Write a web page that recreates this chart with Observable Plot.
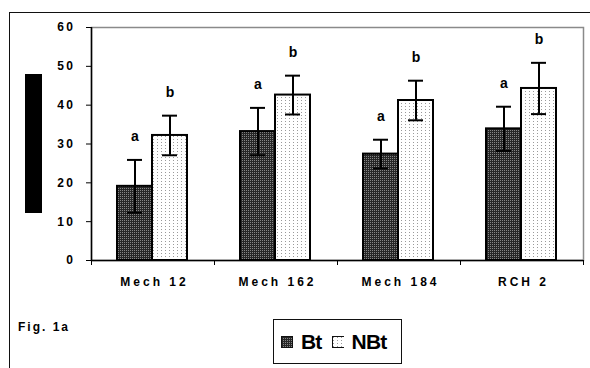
<!DOCTYPE html>
<html><head><meta charset="utf-8">
<script src="https://cdn.jsdelivr.net/npm/d3@7"></script>
<script src="https://cdn.jsdelivr.net/npm/@observablehq/plot@0.6"></script>
<style>
body{margin:0;background:#fff;font-family:"Liberation Sans",Arial,sans-serif}
#wrap{position:relative;width:590px;height:368px;overflow:hidden;background:#fff}
#wrap svg.plot{position:absolute;left:0;top:0}
#frameTop{position:absolute;left:9px;top:12px;width:590px;height:0;border-top:1.5px solid #111}
#frameLeft{position:absolute;left:9px;top:12px;width:0;height:370px;border-left:1.5px solid #111}
#blackbar{position:absolute;left:25px;top:74px;width:17px;height:139px;background:#000}
#fig{position:absolute;left:18px;top:320px;font-size:12px;font-weight:bold;letter-spacing:2px}
#legend{position:absolute;left:273px;top:319px;width:129px;height:45px;border:1px solid #111;box-sizing:border-box;display:flex;align-items:center;padding-left:7px;font-weight:bold;font-size:21px;letter-spacing:-0.8px}
#legend .sw{width:12px;height:12px;margin-right:8px}
#legend .lab{margin-right:10px}
.ytick text{letter-spacing:2.5px}
.xlab text{letter-spacing:3px}
</style>
</head><body>
<svg width="0" height="0" style="position:absolute">
  <defs>
    <pattern id="patBt" width="2" height="2" patternUnits="userSpaceOnUse">
      <rect width="2" height="2" fill="#262626"/>
      <rect width="1" height="1" fill="#858585"/>
    </pattern>
    <pattern id="patNBt" width="4" height="3" patternUnits="userSpaceOnUse">
      <rect width="4" height="3" fill="#fff"/>
      <rect x="1" y="1" width="1" height="1" fill="#9a9a9a"/>
    </pattern>
  </defs>
</svg>
<div id="wrap">
  <div id="frameTop"></div>
  <div id="frameLeft"></div>
  <div id="blackbar"></div>
  <div id="fig">Fig. 1a</div>
  <div id="legend">
    <svg class="sw" width="12" height="12"><rect x="0.5" y="0.5" width="11" height="11" fill="url(#patBt)" stroke="#111"/></svg><span class="lab">Bt</span>
    <svg class="sw" width="14" height="12"><rect x="0.5" y="0.5" width="13" height="11" fill="url(#patNBt)" stroke="#111"/></svg><span>NBt</span>
  </div>
</div>
<script>
const categories = ["Mech 12", "Mech 162", "Mech 184", "RCH 2"];
const btMean  = [19.1, 33.2, 27.4, 33.9];
const btErr   = [6.8, 6.1, 3.7, 5.7];
const nbtMean = [32.2, 42.6, 41.2, 44.3];
const nbtErr  = [5.1, 5.0, 5.1, 6.6];
const btLetters  = ["a", "a", "a", "a"];
const nbtLetters = ["b", "b", "b", "b"];
const yTicks = [0, 10, 20, 30, 40, 50, 60];

const bt = categories.map((c, i) => ({cat: c, m: btMean[i], e: btErr[i], lo: btMean[i] - btErr[i], hi: btMean[i] + btErr[i], letter: btLetters[i]}));
const nbt = categories.map((c, i) => ({cat: c, m: nbtMean[i], e: nbtErr[i], lo: nbtMean[i] - nbtErr[i], hi: nbtMean[i] + nbtErr[i], letter: nbtLetters[i]}));

const half = 61.5; // half of band width in px
const font = "Liberation Sans, Arial, sans-serif";

const chart = Plot.plot({
  width: 590,
  height: 368,
  marginLeft: 91,
  marginRight: 7,
  marginTop: 27,
  marginBottom: 108,
  style: {fontFamily: font, background: "transparent"},
  x: {domain: categories, padding: 0, axis: null, label: null},
  y: {domain: [0, 60], axis: null, label: null},
  marks: [
    Plot.frame({stroke: "#8a8a8a", strokeWidth: 1.5}),
    Plot.barY(bt, {x: "cat", y: "m", insetLeft: 26, insetRight: 62, fill: "url(#patBt)", stroke: "#000", strokeWidth: 2}),
    Plot.barY(nbt, {x: "cat", y: "m", insetLeft: 61, insetRight: 27, fill: "url(#patNBt)", stroke: "#000", strokeWidth: 2}),
    Plot.ruleX(bt, {x: "cat", y1: "lo", y2: "hi", dx: -18, stroke: "#000", strokeWidth: 2}),
    Plot.ruleX(nbt, {x: "cat", y1: "lo", y2: "hi", dx: 17, stroke: "#000", strokeWidth: 2}),
    Plot.tickY(bt, {x: "cat", y: "hi", insetLeft: 36, insetRight: 72, stroke: "#000", strokeWidth: 2}),
    Plot.tickY(bt, {x: "cat", y: "lo", insetLeft: 36, insetRight: 72, stroke: "#000", strokeWidth: 2}),
    Plot.tickY(nbt, {x: "cat", y: "hi", insetLeft: 71, insetRight: 37, stroke: "#000", strokeWidth: 2}),
    Plot.tickY(nbt, {x: "cat", y: "lo", insetLeft: 71, insetRight: 37, stroke: "#000", strokeWidth: 2}),
    Plot.text(bt, {x: "cat", y: "hi", text: "letter", dx: -18, dy: -23, fontWeight: "bold", fontSize: 14, fill: "#000"}),
    Plot.text(nbt, {x: "cat", y: "hi", text: "letter", dx: 17, dy: -23, fontWeight: "bold", fontSize: 14, fill: "#000"}),
    // left axis line
    Plot.ruleX([categories[0]], {x: d => d, y1: 0, y2: 60, dx: -half, stroke: "#000", strokeWidth: 1.5}),
    Plot.ruleY([0], {stroke: "#000", strokeWidth: 1.5}),
    Plot.axisY({ticks: yTicks, tickSize: 5, tickPadding: 11, fontSize: 12, fontWeight: "bold", className: "ytick", stroke: "#000", fill: "#000", label: null}),
    Plot.axisX({ticks: categories, tickSize: 5, tickFormat: () => "", dx: -half, stroke: "#000", label: null}),
    Plot.axisX({ticks: [categories[3]], tickSize: 5, tickFormat: () => "", dx: half, stroke: "#000", label: null}),
    Plot.axisX({ticks: categories, tickSize: 0, tickPadding: 17, fontSize: 12, fontWeight: "bold", className: "xlab", dx: 1.5, fill: "#000", label: null})
  ]
});
chart.classList.add("plot");
document.getElementById("wrap").appendChild(chart);
</script>
</body></html>
